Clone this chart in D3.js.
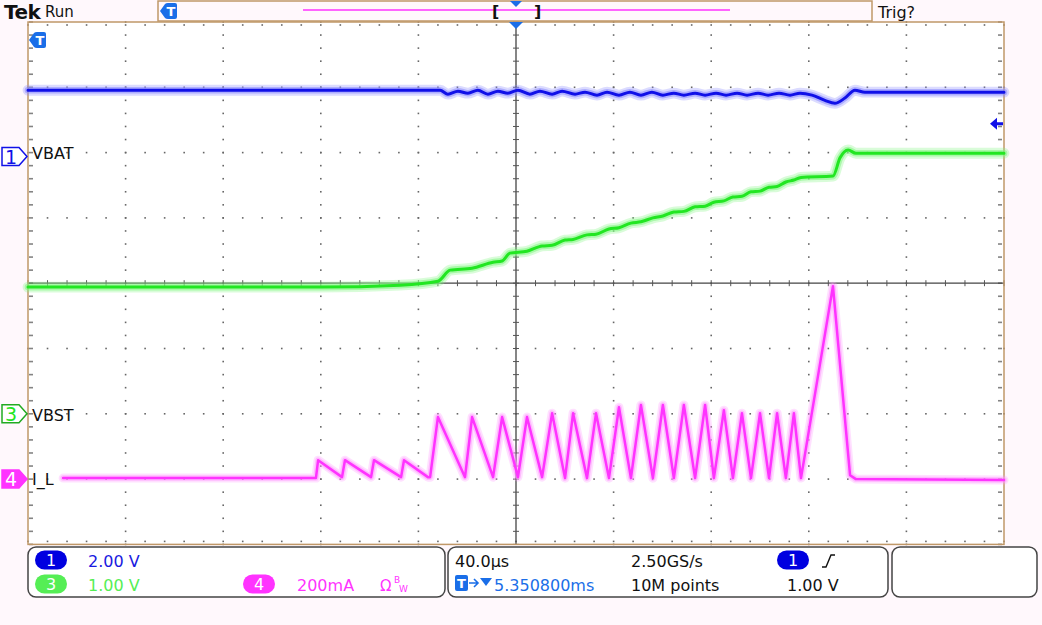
<!DOCTYPE html>
<html><head><meta charset="utf-8">
<script src="https://cdn.jsdelivr.net/npm/d3@7"></script>
<style>
html,body{margin:0;padding:0;background:#fff8fc;}
svg{display:block;}
text{font-family:"DejaVu Sans",sans-serif;}
</style></head>
<body>
<svg id="c" width="1042" height="625"></svg>
<script>
// ---------- DATA ----------
// time in microseconds relative to trigger, 40 us/div
const timeDomain = [-200, 200];
// CH1 VBAT (volts, 2 V/div)
const vbatT = [-200,-31.1,-27.9,-23.8,-19.7,-15.6,-11.5,-7.4,-3.3,0.8,5.7,9.8,14.8,18.9,24.2,28.3,33.2,37.3,42.2,46.7,51.2,55.7,60.2,64.7,68.8,73.4,77.5,82.0,86.1,90.6,94.7,99.2,103.3,107.8,112.3,116.4,121.3,126.6,130.7,134.8,138.9,143.0,200];
const vbatV = [2.03,2.03,1.91,2.00,1.94,2.03,1.91,2.00,1.94,2.03,1.91,2.00,1.91,2.00,1.91,1.97,1.88,1.97,1.88,1.97,1.88,1.97,1.88,1.94,1.88,1.94,1.88,1.94,1.88,1.94,1.88,1.94,1.88,1.94,1.88,1.94,1.88,1.72,1.63,1.79,2.03,1.97,1.97];
// CH3 VBST (volts, 1 V/div)
const vbstT = [-200,-80.3,-47.5,-32.0,-27.0,-18.0,-9.4,-5.7,-2.5,4.5,10.7,14.8,20.1,23.4,29.1,32.8,38.1,42.2,47.1,51.2,56.1,60.2,64.7,68.8,73.4,77.5,81.1,85.2,88.9,92.6,96.3,100.0,103.7,107.0,110.6,113.9,116.8,129.9,132.8,136.1,139.3,200];
const vbstV = [1.94,1.94,1.97,2.03,2.20,2.23,2.32,2.34,2.46,2.49,2.57,2.58,2.66,2.67,2.74,2.75,2.83,2.85,2.92,2.94,3.00,3.03,3.09,3.10,3.17,3.18,3.24,3.26,3.32,3.33,3.40,3.41,3.47,3.48,3.55,3.58,3.62,3.64,3.92,4.04,3.99,3.99];
// CH4 I_L (mA, 200 mA/div)
const ilT = [-185.6,-82.0,-81.1,-71.3,-70.1,-59.4,-58.2,-47.1,-45.9,-36.1,-35.2,-32.0,-20.9,-18.0,-9.4,-5.7,0.8,4.5,10.7,14.8,20.1,23.4,29.1,32.8,38.1,42.2,47.1,51.2,56.1,60.2,64.7,68.8,73.4,77.5,81.1,85.2,88.9,92.6,96.3,100.0,103.7,107.0,110.6,113.9,116.8,129.9,136.9,139.3,200];
const ilMA = [3,3,58,6,58,6,58,6,58,6,6,190,6,190,6,190,6,190,6,202,3,202,3,202,3,220,3,227,3,227,3,227,3,227,3,211,3,202,3,202,3,202,3,202,3,591,12,0,-3];
// channel settings
const chNames = ["VBAT","VBST","I_L"];
const chScaleLabels = ["2.00 V","1.00 V","200mA"];
const timeLabels = ["40.0μs","5.350800ms","2.50GS/s","10M points","1.00 V"];
const trigLevelV = 1.00;

// ---------- LAYOUT ----------
const L=28, R=1004, T=22, B=544.4;
const svg = d3.select("#c");
const x = d3.scaleLinear().domain(timeDomain).range([L,R]);
const div = d3.scaleLinear().domain([-4,4]).range([B,T]);
const y1 = d3.scaleLinear().domain([-11.88,4.12]).range([B,T]); // ch1: 2V/div, offset +1.94 div
const y3 = d3.scaleLinear().domain([-2,6]).range([B,T]);        // ch3: 1V/div, offset -2 div
const y4 = d3.scaleLinear().domain([-200,1400]).range([B,T]);   // ch4: 200mA/div, offset -3 div

const BLUE="#1010e8", GREEN="#22e622", PINK="#ff33ff", TAN="#c09868";

// background
svg.append("rect").attr("width",1042).attr("height",625).attr("fill","#fff8fc");
svg.append("rect").attr("x",L).attr("y",T).attr("width",R-L).attr("height",B-T).attr("fill","#ffffff");

// grid
const g = svg.append("g");
const majT = d3.range(-200,201,40), minT = d3.range(-200,200.1,8);
const majD = d3.range(-4,5,1), minD = d3.range(-4,4.01,0.2);
const dots=[];
majT.forEach(t=>{ if(t!==0 && t!==-200 && t!==200) minD.forEach(d=>dots.push([x(t),div(d)])); });
majD.forEach(d=>{ if(d!==0 && d!==-4 && d!==4) minT.forEach(t=>dots.push([x(t),div(d)])); });
// border ticks
minT.forEach(t=>{dots.push([x(t),T+3]);dots.push([x(t),B-3]);});
minD.forEach(d=>{dots.push([L+2,div(d)]);dots.push([L+4,div(d)]);dots.push([R-3,div(d)]);dots.push([R-5,div(d)]);});
g.selectAll("rect.d").data(dots).join("rect").attr("class","d")
 .attr("x",d=>d[0]-0.8).attr("y",d=>d[1]-0.8).attr("width",1.6).attr("height",1.6).attr("fill","#666");
// center lines
g.append("line").attr("x1",L).attr("x2",R).attr("y1",div(0)).attr("y2",div(0)).attr("stroke","#444").attr("stroke-width",1.3);
g.append("line").attr("x1",x(0)).attr("x2",x(0)).attr("y1",T).attr("y2",B).attr("stroke","#444").attr("stroke-width",1.3);
g.selectAll("line.ht").data(minT).join("line").attr("class","ht")
 .attr("x1",d=>x(d)).attr("x2",d=>x(d)).attr("y1",div(0)-3).attr("y2",div(0)+3).attr("stroke","#555").attr("stroke-width",1);
g.selectAll("line.vt").data(minD).join("line").attr("class","vt")
 .attr("y1",d=>div(d)).attr("y2",d=>div(d)).attr("x1",x(0)-3).attr("x2",x(0)+3).attr("stroke","#555").attr("stroke-width",1);

// frame
svg.append("rect").attr("x",L).attr("y",T).attr("width",R-L).attr("height",B-T).attr("fill","none").attr("stroke",TAN).attr("stroke-width",1.5);

// traces
function trace(T_,V_,ys,core,halo,curve,w){
  const pts=T_.map((t,i)=>[x(t),ys(V_[i])]);
  const ln=d3.line().curve(curve);
  const gg=svg.append("g").attr("fill","none").attr("stroke-linejoin","round").attr("stroke-linecap","round");
  gg.append("path").attr("d",ln(pts)).attr("stroke",halo).attr("stroke-width",w*3.6).attr("opacity",0.3);
  gg.append("path").attr("d",ln(pts)).attr("stroke",halo).attr("stroke-width",w*2.2).attr("opacity",0.55);
  gg.append("path").attr("d",ln(pts)).attr("stroke",core).attr("stroke-width",w);
}
trace(vbatT,vbatV,y1,BLUE,"#8888ff",d3.curveMonotoneX,3);
trace(vbstT,vbstV,y3,GREEN,"#80f580",d3.curveMonotoneX,3);
trace(ilT,ilMA,y4,PINK,"#ff99ff",d3.curveLinear,2.5);

// channel markers and labels
function chMarker(yc,num,stroke,fill,txtCol){
  const gm=svg.append("g");
  gm.append("path").attr("d",`M2,${yc-9}H19L27,${yc}L19,${yc+9}H2Z`).attr("fill",fill).attr("stroke",stroke).attr("stroke-width",1.5);
  gm.append("text").attr("x",11).attr("y",yc+7).attr("text-anchor","middle").attr("font-size",19).attr("fill",txtCol).text(num);
}
chMarker(y1(0),"1",BLUE,"#ffffff",BLUE);
chMarker(y3(0),"3","#22aa22","#ffffff",GREEN);
chMarker(y4(0),"4",PINK,PINK,"#ffffff");
svg.append("text").attr("x",32).attr("y",y1(0)+2).attr("font-size",16).attr("fill","#111").text(chNames[0]);
svg.append("text").attr("x",32).attr("y",y3(0)+7).attr("font-size",16).attr("fill","#111").text(chNames[1]);
svg.append("text").attr("x",32).attr("y",y4(0)+6).attr("font-size",16).attr("fill","#111").text(chNames[2]);

// trigger level marker on right
const ty=y1(trigLevelV);
svg.append("path").attr("d",`M990,${ty}L997,${ty-6}V${ty-1.5}H1003V${ty+1.5}H997V${ty+6}Z`).attr("fill",BLUE);

// T marker
function tMarker(x0,y0){
  const gm=svg.append("g");
  gm.append("path").attr("d",`M${x0},${y0+8}L${x0+5},${y0+1}Q${x0+6},${y0} ${x0+8},${y0}H${x0+15}Q${x0+17},${y0} ${x0+17},${y0+2}V${y0+14}Q${x0+17},${y0+16} ${x0+15},${y0+16}H${x0+8}Q${x0+6},${y0+16} ${x0+5},${y0+15}Z`).attr("fill","#1a6ee8");
  gm.append("text").attr("x",x0+11).attr("y",y0+13).attr("text-anchor","middle").attr("font-size",13).attr("font-weight","bold").attr("fill","#fff").text("T");
}
tMarker(29,32);

// top bar
svg.append("text").attr("x",4).attr("y",19).attr("font-family","Liberation Serif").attr("font-weight","bold").attr("font-size",20).attr("letter-spacing",-0.5).attr("fill","#111").text("Tek");
svg.append("text").attr("x",45).attr("y",17).attr("font-size",15).attr("fill","#111").text("Run");
svg.append("rect").attr("x",158).attr("y",1).attr("width",714).attr("height",20).attr("fill","#fff8fc").attr("stroke",TAN).attr("stroke-width",1.5);
svg.append("line").attr("x1",303).attr("x2",730).attr("y1",10).attr("y2",10).attr("stroke",PINK).attr("stroke-width",1.5);
tMarker(160,3);
svg.append("text").attr("x",492).attr("y",17).attr("font-size",16).attr("font-weight","bold").attr("fill","#111").text("[");
svg.append("text").attr("x",534).attr("y",17).attr("font-size",16).attr("font-weight","bold").attr("fill","#111").text("]");
svg.append("path").attr("d",`M${x(0)-6},1H${x(0)+6}L${x(0)},7Z`).attr("fill","#1a6ee8");
svg.append("path").attr("d",`M${x(0)-7},${T}H${x(0)+7}L${x(0)},${T+7}Z`).attr("fill","#1a6ee8");
svg.append("text").attr("x",878).attr("y",18).attr("font-size",16).attr("fill","#111").text("Trig?");

// bottom status boxes
[[28,417],[448,440],[892,145]].forEach(b=>{
  svg.append("rect").attr("x",b[0]).attr("y",547).attr("width",b[1]).attr("height",50).attr("rx",8)
   .attr("fill","#ffffff").attr("stroke","#444").attr("stroke-width",1.5);
});
function pill(x0,yc,w,fill,num){
  svg.append("rect").attr("x",x0).attr("y",yc-9.5).attr("width",w).attr("height",19).attr("rx",9.5).attr("fill",fill);
  svg.append("text").attr("x",x0+w/2).attr("y",yc+6).attr("text-anchor","middle").attr("font-size",16).attr("fill","#fff").text(num);
}
pill(35,560,32,"#0000e0","1");
pill(35,584,32,"#55ee55","3");
pill(243,584,32,PINK,"4");
svg.append("text").attr("x",88).attr("y",567).attr("font-size",16).attr("fill","#1a1ae0").text(chScaleLabels[0]);
svg.append("text").attr("x",88).attr("y",591).attr("font-size",16).attr("fill","#55ee55").text(chScaleLabels[1]);
svg.append("text").attr("x",297).attr("y",591).attr("font-size",16).attr("fill",PINK).text(chScaleLabels[2]);
svg.append("text").attr("x",380).attr("y",591).attr("font-size",15).attr("fill",PINK).text("Ω");
svg.append("text").attr("x",394).attr("y",583).attr("font-size",9).attr("fill",PINK).text("B");
svg.append("text").attr("x",399).attr("y",592).attr("font-size",9).attr("fill",PINK).text("W");

svg.append("text").attr("x",455).attr("y",567).attr("font-size",16).attr("fill","#111").text(timeLabels[0]);
svg.append("rect").attr("x",455).attr("y",575).attr("width",13).attr("height",16).attr("rx",2).attr("fill","#1a6ee8");
svg.append("text").attr("x",461.5).attr("y",588).attr("text-anchor","middle").attr("font-size",13).attr("font-weight","bold").attr("fill","#fff").text("T");
svg.append("path").attr("d","M469,583H478M474,579L478,583L474,587").attr("stroke","#1a6ee8").attr("stroke-width",1.6).attr("fill","none");
svg.append("path").attr("d","M480,578H492L486,586Z").attr("fill","#1a6ee8");
svg.append("text").attr("x",494).attr("y",591).attr("font-size",16).attr("fill","#1a6ee8").text(timeLabels[1]);
svg.append("text").attr("x",631).attr("y",567).attr("font-size",16).attr("fill","#111").text(timeLabels[2]);
svg.append("text").attr("x",631).attr("y",591).attr("font-size",16).attr("fill","#111").text(timeLabels[3]);
pill(777,560,32,"#0000e0","1");
svg.append("path").attr("d","M822,567H826L831,555H835").attr("stroke","#111").attr("stroke-width",1.4).attr("fill","none");
svg.append("text").attr("x",787).attr("y",591).attr("font-size",16).attr("fill","#111").text(timeLabels[4]);
</script>
</body></html>
